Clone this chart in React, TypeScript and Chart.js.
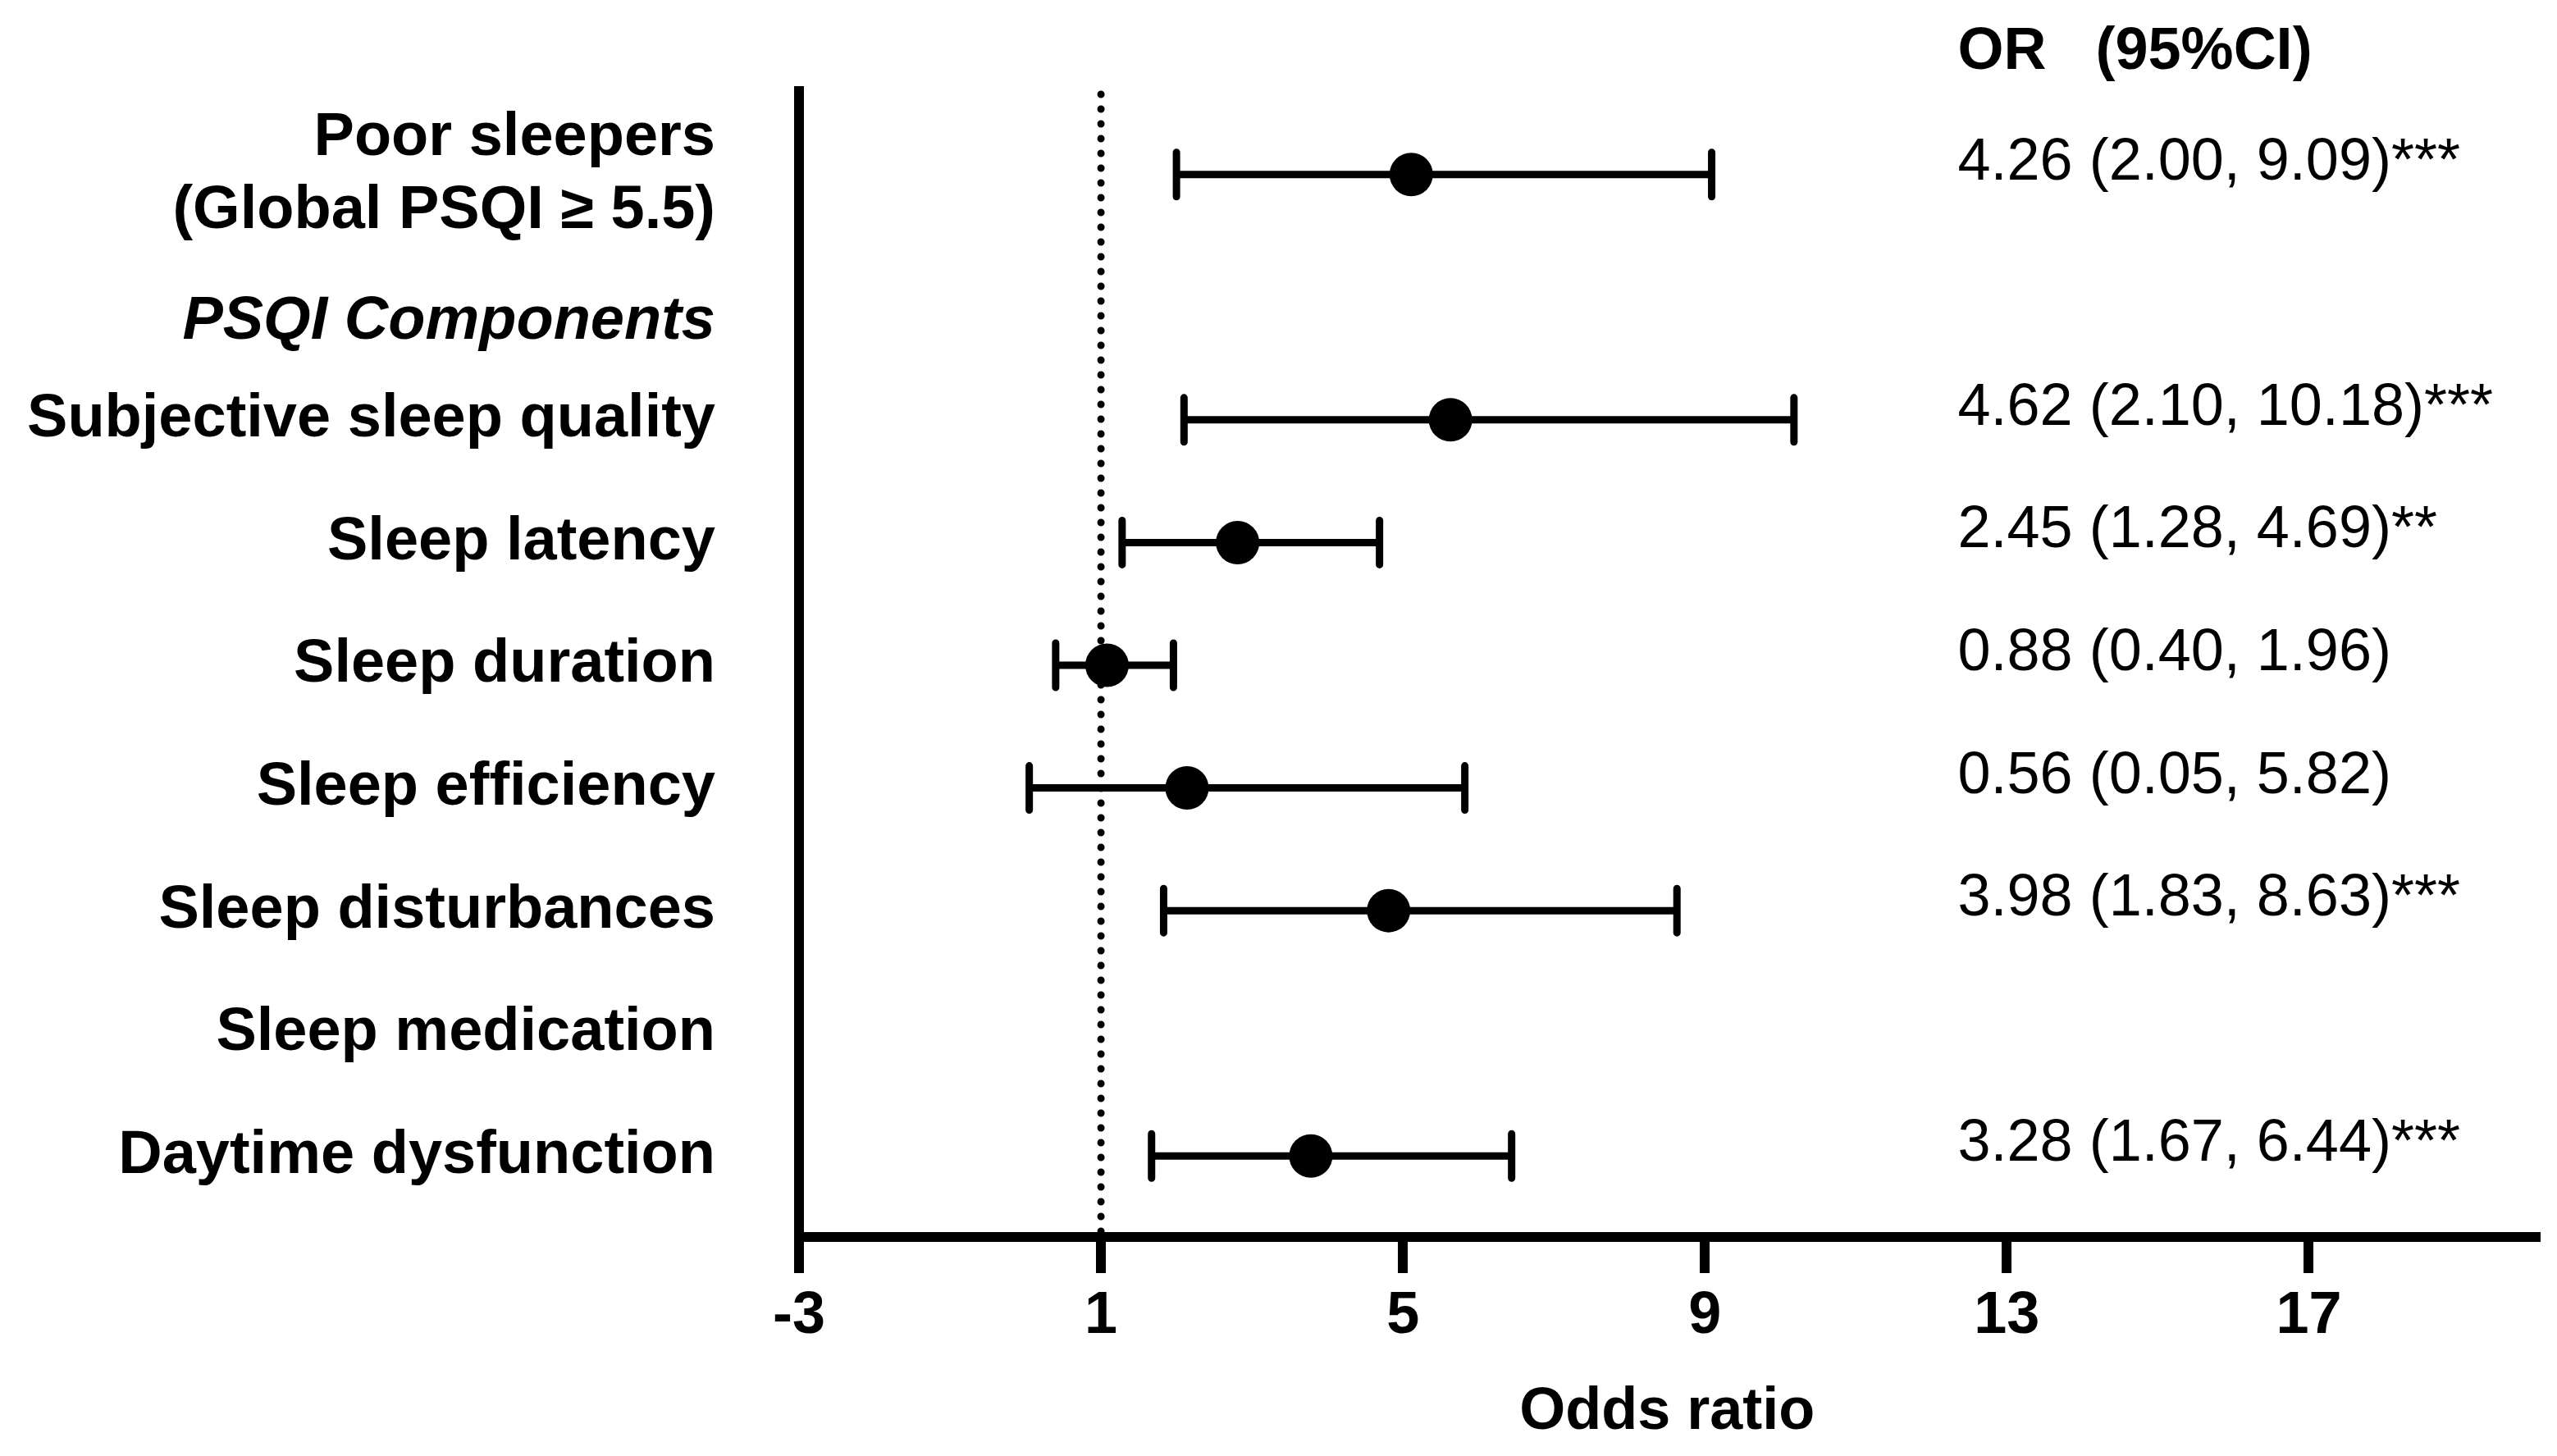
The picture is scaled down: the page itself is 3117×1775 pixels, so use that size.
import React, { useEffect, useRef } from "react";
import { Chart, registerables } from "chart.js";

Chart.register(...registerables);

// ---------- data ----------
const rowLabels = [
  "Poor sleepers\n(Global PSQI ≥ 5.5)",
  "PSQI Components",
  "Subjective sleep quality",
  "Sleep latency",
  "Sleep duration",
  "Sleep efficiency",
  "Sleep disturbances",
  "Sleep medication",
  "Daytime dysfunction",
];

const pointValues: (number | null)[] = [5.11, null, 5.63, 2.81, 1.08, 2.14, 4.81, null, 3.78];
const ciLower: (number | null)[] = [2.0, null, 2.1, 1.28, 0.4, 0.05, 1.83, null, 1.67];
const ciUpper: (number | null)[] = [9.09, null, 10.18, 4.69, 1.96, 5.82, 8.63, null, 6.44];

const orTexts = [
  "4.26 (2.00, 9.09)***",
  "",
  "4.62 (2.10, 10.18)***",
  "2.45 (1.28, 4.69)**",
  "0.88 (0.40, 1.96)",
  "0.56 (0.05, 5.82)",
  "3.98 (1.83, 8.63)***",
  "",
  "3.28 (1.67, 6.44)***",
];

const xTicks = [-3, 1, 5, 9, 13, 17];
const headerText = "OR   (95%CI)";
const xTitle = "Odds ratio";

// ---------- layout constants ----------
const W = 3117;
const H = 1775;
const HEADER_INDEX = 1;
const HEADER_SHIFT = 0.2;
const REF_LINE = 1;
const TEXT_COL_X = 12.35;
const FONT = "'Liberation Sans', Arial, Helvetica, sans-serif";

const rowPos = (i: number) => i + (i === HEADER_INDEX ? HEADER_SHIFT : 0);

const forestPlugin = {
  id: "forest",
  beforeDatasetsDraw(chart: any) {
    const { ctx, chartArea, scales } = chart;
    const x = scales.x;
    const y = scales.y;
    ctx.save();
    ctx.strokeStyle = "#000";
    // dotted reference line
    const xr = x.getPixelForValue(REF_LINE);
    ctx.lineWidth = 9;
    ctx.lineCap = "round";
    ctx.setLineDash([0, 18]);
    ctx.beginPath();
    ctx.moveTo(xr, chartArea.top + 4);
    ctx.lineTo(xr, chartArea.bottom);
    ctx.stroke();
    ctx.setLineDash([]);
    // error bars
    ctx.lineWidth = 9;
    rowLabels.forEach((_, i) => {
      const lo = ciLower[i];
      const hi = ciUpper[i];
      if (lo == null || hi == null) return;
      const yp = y.getPixelForValue(rowPos(i));
      const x1 = x.getPixelForValue(lo);
      const x2 = x.getPixelForValue(hi);
      ctx.lineCap = "butt";
      ctx.beginPath();
      ctx.moveTo(x1, yp);
      ctx.lineTo(x2, yp);
      ctx.stroke();
      ctx.lineCap = "round";
      ctx.beginPath();
      ctx.moveTo(x1, yp - 27);
      ctx.lineTo(x1, yp + 27);
      ctx.moveTo(x2, yp - 27);
      ctx.lineTo(x2, yp + 27);
      ctx.stroke();
    });
    ctx.restore();
  },
  afterDraw(chart: any) {
    const { ctx, chartArea, scales } = chart;
    const x = scales.x;
    const y = scales.y;
    const tx = x.getPixelForValue(TEXT_COL_X);
    ctx.save();
    ctx.fillStyle = "#000";
    ctx.textAlign = "left";
    ctx.textBaseline = "alphabetic";
    ctx.font = `bold 72px ${FONT}`;
    ctx.fillText(headerText, tx, chartArea.top - 27);
    ctx.font = `normal 72px ${FONT}`;
    orTexts.forEach((t, i) => {
      if (!t) return;
      ctx.fillText(t, tx, y.getPixelForValue(rowPos(i)) + 6);
    });
    ctx.restore();
  },
};

export default function App() {
  const ref = useRef<HTMLCanvasElement | null>(null);

  useEffect(() => {
    if (!ref.current) return;
    Chart.defaults.font.family = FONT;
    Chart.defaults.color = "#000";

    const points = pointValues
      .map((v, i) => (v == null ? null : { x: v, y: rowPos(i) }))
      .filter((p) => p !== null) as { x: number; y: number }[];

    const chart = new Chart(ref.current, {
      type: "scatter",
      data: {
        datasets: [
          {
            data: points,
            pointRadius: 26.5,
            pointHoverRadius: 26.5,
            backgroundColor: "#000",
            borderWidth: 0,
          },
        ],
      },
      options: {
        animation: false,
        responsive: false,
        devicePixelRatio: 1,
        layout: { padding: { top: 111, right: 22, bottom: 0, left: 0 } },
        plugins: {
          legend: { display: false },
          tooltip: { enabled: false },
        },
        scales: {
          x: {
            type: "linear",
            min: -3,
            max: 20,
            afterBuildTicks: (scale: any) => {
              scale.ticks = xTicks.map((v) => ({ value: v }));
            },
            afterFit: (scale: any) => {
              scale.height = 267;
              scale.paddingLeft = 0;
              scale.paddingRight = 0;
            },
            grid: {
              display: true,
              drawOnChartArea: false,
              drawTicks: true,
              tickLength: 44,
              lineWidth: 12,
              color: "#000",
            },
            border: { display: true, width: 12, color: "#000" },
            ticks: {
              autoSkip: false,
              maxRotation: 0,
              padding: 10,
              color: "#000",
              font: { size: 72, weight: "bold", family: FONT },
              callback: (v: any) => String(v),
            },
            title: {
              display: true,
              text: xTitle,
              color: "#000",
              font: { size: 72, weight: "bold", family: FONT },
              padding: { top: 0, bottom: 10 },
            },
          },
          y: {
            type: "linear",
            reverse: true,
            min: -0.68,
            max: 8.66,
            afterBuildTicks: (scale: any) => {
              scale.ticks = rowLabels.map((_, i) => ({ value: rowPos(i) }));
            },
            afterFit: (scale: any) => {
              scale.width = 974;
              scale.paddingTop = 0;
              scale.paddingBottom = 0;
            },
            grid: { display: false, drawTicks: false },
            border: { display: true, width: 12, color: "#000" },
            ticks: {
              autoSkip: false,
              padding: 102,
              color: "#000",
              font: (ctx: any) =>
                ctx.index === HEADER_INDEX
                  ? { size: 74, weight: "bold", style: "italic", family: FONT, lineHeight: 1.2 }
                  : { size: 74, weight: "bold", family: FONT, lineHeight: 1.2 },
              callback: (_v: any, index: number) => {
                const l = rowLabels[index] || "";
                return l.includes("\n") ? l.split("\n") : l;
              },
            },
          },
        },
      },
      plugins: [forestPlugin],
    } as any);

    return () => chart.destroy();
  }, []);

  return (
    <div
      style={{
        position: "fixed",
        left: 0,
        top: 0,
        width: W,
        height: H,
        background: "#fff",
      }}
    >
      <canvas ref={ref} width={W} height={H} style={{ display: "block", width: W, height: H }} />
    </div>
  );
}
